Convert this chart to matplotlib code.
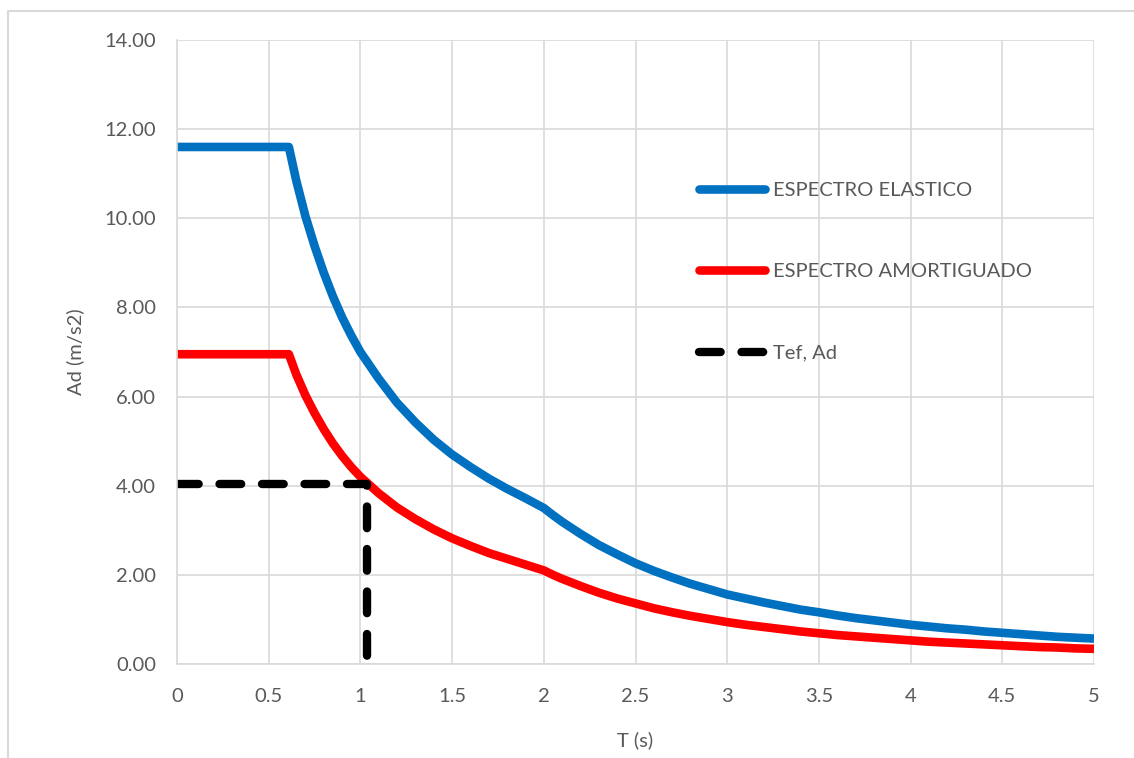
import matplotlib.pyplot as plt
from matplotlib.lines import Line2D

plt.rcParams['font.family'] = ['Lato', 'DejaVu Sans']

# periodo T (s)
T = [0, 0.1, 0.2, 0.3, 0.4, 0.5, 0.61, 0.65, 0.7, 0.75, 0.8, 0.85, 0.9, 0.95, 1.0,
     1.1, 1.2, 1.3, 1.4, 1.5, 1.6, 1.7, 1.8, 1.9, 2.0, 2.05, 2.1, 2.2, 2.3, 2.4,
     2.5, 2.6, 2.7, 2.8, 2.9, 3.0, 3.1, 3.2, 3.3, 3.4, 3.5, 3.6, 3.7, 3.8, 3.9,
     4.0, 4.1, 4.2, 4.3, 4.4, 4.5, 4.6, 4.7, 4.8, 4.9, 5.0]
# espectro elastico
ad_elastico = [11.6, 11.6, 11.6, 11.6, 11.6, 11.6, 11.6, 10.85, 10.05, 9.38, 8.78, 8.25,
               7.78, 7.37, 7.0, 6.40, 5.86, 5.42, 5.03, 4.70, 4.42, 4.16, 3.93, 3.72,
               3.50, 3.34, 3.19, 2.92, 2.67, 2.46, 2.26, 2.09, 1.94, 1.80, 1.68, 1.56,
               1.47, 1.38, 1.30, 1.22, 1.16, 1.09, 1.03, 0.98, 0.93, 0.88, 0.84, 0.80,
               0.77, 0.73, 0.70, 0.67, 0.64, 0.61, 0.59, 0.57]
# espectro amortiguado
ad_amort = [6.95, 6.95, 6.95, 6.95, 6.95, 6.95, 6.95, 6.50, 6.03, 5.63, 5.27, 4.95,
            4.67, 4.42, 4.20, 3.83, 3.51, 3.25, 3.02, 2.82, 2.65, 2.49, 2.36, 2.23,
            2.10, 2.00, 1.91, 1.75, 1.60, 1.47, 1.36, 1.25, 1.16, 1.08, 1.01, 0.94,
            0.88, 0.83, 0.78, 0.73, 0.69, 0.65, 0.62, 0.59, 0.56, 0.53, 0.50, 0.48,
            0.46, 0.44, 0.42, 0.40, 0.38, 0.37, 0.35, 0.34]
# punto de desempeno
tef_x = [0, 1.036, 1.036]
tef_y = [4.04, 4.04, 0]

fig = plt.figure(figsize=(11.34, 7.58), dpi=100)
ax = fig.add_axes([177 / 1134, 94 / 758, 917 / 1134, 624 / 758])
# borde del grafico (solo izquierda y arriba visibles)
fig.lines.append(Line2D([8 / 1134, 8 / 1134, 1.0], [0.0, 1 - 10.5 / 758, 1 - 10.5 / 758],
                        transform=fig.transFigure, color='#d9d9d9', lw=1.5))

ax.plot(T, ad_elastico, color='#0070C0', lw=6.2, solid_capstyle='butt', solid_joinstyle='round',
        label='ESPECTRO ELASTICO')
ax.plot(T, ad_amort, color='#FF0000', lw=6.2, solid_capstyle='butt', solid_joinstyle='round',
        label='ESPECTRO AMORTIGUADO')
ax.plot(tef_x, tef_y, color='black', lw=6.0, dashes=(2.6, 2.5), dash_capstyle='round',
        label='Tef, Ad')

ax.set_xlim(0, 5)
ax.set_ylim(0, 14)
ax.set_xticks([0, 0.5, 1, 1.5, 2, 2.5, 3, 3.5, 4, 4.5, 5])
ax.set_xticklabels(['0', '0.5', '1', '1.5', '2', '2.5', '3', '3.5', '4', '4.5', '5'])
ax.set_yticks(range(0, 15, 2))
ax.set_yticklabels(['%.2f' % v for v in range(0, 15, 2)])
ax.grid(True, color='#d9d9d9', lw=1.2)
ax.set_axisbelow(True)
for s in ['top', 'right']:
    ax.spines[s].set_visible(False)
ax.spines['left'].set_color('#d9d9d9')
ax.spines['bottom'].set_color('#d9d9d9')
ax.spines['left'].set_linewidth(1.2)
ax.spines['bottom'].set_linewidth(1.2)
ax.tick_params(length=0, labelsize=14.5, colors='#595959')
ax.tick_params(axis='x', pad=17)
ax.tick_params(axis='y', pad=15)
ax.set_xlabel('T (s)', fontsize=14.5, color='#595959', labelpad=19)
ax.set_ylabel('Ad (m/s2)', fontsize=14.5, color='#595959', labelpad=15)

leg = ax.legend(loc='upper left', bbox_to_anchor=(0.549, 0.802), frameon=False, fontsize=14.5,
                labelcolor='#595959', handlelength=3.3, handletextpad=0.4, labelspacing=3.2)
for h in leg.get_lines():
    h.set_solid_capstyle('round')

fig.savefig('out.png', dpi=100)
